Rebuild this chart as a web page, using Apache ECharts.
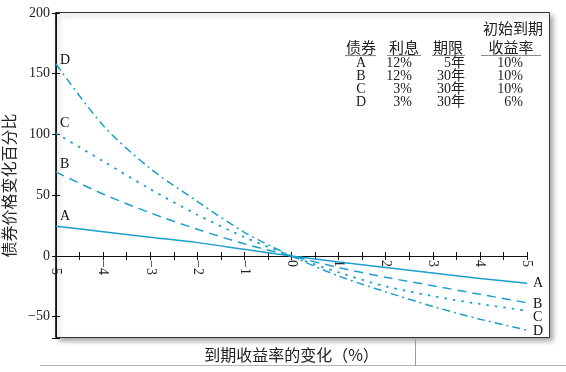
<!DOCTYPE html>
<html><head><meta charset="utf-8">
<script src="https://cdn.jsdelivr.net/npm/echarts@6/dist/echarts.min.js"></script>
<style>html,body{margin:0;padding:0;background:#fff}#c{width:566px;height:372px}</style>
</head><body><div id="c"></div>
<script>
// ---- data ----
const yieldChanges = [-5, -4, -3, -2, -1, 0, 1, 2, 3, 4, 5];
const bondA = [24.5, 20, 15.5, 11, 5.5, 0, -5, -9.5, -14, -18.5, -22.5];
const bondB = [69, 51, 35.5, 22, 10, 0, -9.5, -17.5, -24.5, -31.5, -38.5];
const bondC = [101, 78, 55, 34, 15.5, 0, -13.5, -25, -33, -39.5, -45];
const bondD = [158, 107.5, 72, 45, 19.5, 0, -16.5, -29.5, -41.5, -52, -61];
const seriesNames = ['A', 'B', 'C', 'D'];
const tableHeaderTop = '初始到期';
const tableHeaders = ['债券', '利息', '期限', '收益率'];
const tableBonds = ['A', 'B', 'C', 'D'];
const tableCoupons = ['12%', '12%', '3%', '3%'];
const tableMaturities = ['5年', '30年', '30年', '30年'];
const tableYields = ['10%', '10%', '10%', '6%'];
const xAxisTitle = '到期收益率的变化（%）';
const yAxisTitle = '债券价格变化百分比';

// ---- style ----
const CYAN = '#1d9fcd';
const SERIF = '"Liberation Serif", "Noto Sans CJK SC", serif';
const CJK = '"Noto Sans CJK SC", sans-serif';
const styles = [
  { type: 'solid', width: 1.5, labelOff: -10, endOff: 0 },
  { type: [9, 6], width: 1.5, labelOff: -8, endOff: 2 },
  { type: [2.5, 6], width: 1.8, labelOff: -10, endOff: 7 },
  { type: [8, 4, 2, 4], width: 1.5, labelOff: -4, endOff: 1 }
];
const allData = [bondA, bondB, bondC, bondD];

const series = allData.map((vals, i) => ({
  name: seriesNames[i],
  type: 'line',
  smooth: 0.3,
  symbol: 'circle',
  symbolSize: 0,
  showSymbol: true,
  xAxisIndex: 0, yAxisIndex: 0,
  lineStyle: { color: CYAN, width: styles[i].width, type: styles[i].type },
  itemStyle: { color: CYAN },
  data: vals.map((v, k) => k === 0 ? {
    value: [yieldChanges[k], v],
    label: { show: true, formatter: seriesNames[i], position: 'right', distance: 4,
      offset: [0, styles[i].labelOff], color: '#111', fontFamily: SERIF, fontSize: 14 }
  } : [yieldChanges[k], v]),
  endLabel: { show: true, formatter: seriesNames[i], distance: 6, offset: [0, styles[i].endOff],
    color: '#111', fontFamily: SERIF, fontSize: 14 }
}));

// table graphic
const colX = { bond: 361, coupon: 412, mat: 465, yield: 523 };
const headCenters = [361, 404, 448, 511];
const headUnder = [[345, 376], [387, 421], [432, 465], [481, 541]];
const rowY = [63, 76, 89, 102];
const graphics = [
  { type: 'rect', z: -10, silent: true,
    shape: { x: 55.5, y: 12.5, width: 494, height: 325 },
    style: { fill: '#fff', stroke: '#333', lineWidth: 1,
      shadowBlur: 5, shadowColor: 'rgba(0,0,0,0.35)', shadowOffsetX: 3, shadowOffsetY: 3 } },
  { type: 'line', silent: true, shape: { x1: 40, y1: 365.5, x2: 566, y2: 365.5 },
    style: { stroke: '#b5b5b5', lineWidth: 1 } },
  { type: 'line', silent: true, shape: { x1: 415.5, y1: 339, x2: 415.5, y2: 366 },
    style: { stroke: '#9a9a9a', lineWidth: 1 } },
  { type: 'text', silent: true, style: { text: tableHeaderTop, x: 513, y: 28, align: 'center',
    verticalAlign: 'middle', font: '15px ' + CJK, fill: '#222' } }
];
tableHeaders.forEach((h, i) => {
  graphics.push({ type: 'text', silent: true, style: { text: h, x: headCenters[i], y: 47,
    align: 'center', verticalAlign: 'middle', font: '15px ' + CJK, fill: '#222' } });
  graphics.push({ type: 'line', silent: true, shape: { x1: headUnder[i][0], y1: 55.5, x2: headUnder[i][1], y2: 55.5 },
    style: { stroke: '#8a8a8a', lineWidth: 1.2 } });
});
tableBonds.forEach((b, r) => {
  const cells = [[b, colX.bond, 'center'], [tableCoupons[r], colX.coupon, 'right'],
    [tableMaturities[r], colX.mat, 'right'], [tableYields[r], colX.yield, 'right']];
  cells.forEach(c => graphics.push({ type: 'text', silent: true, style: { text: c[0], x: c[1], y: rowY[r],
    align: c[2], verticalAlign: 'middle', font: '14px ' + SERIF, fill: '#222' } }));
});

const minus = s => String(s).replace('-', '−');
const baseY = { type: 'value', min: -67.5, max: 200, minInterval: 50, maxInterval: 50,
  splitLine: { show: false } };
const baseX = { type: 'value', min: -5, max: 5, interval: 0.5, splitLine: { show: false } };

const option = {
  animation: false,
  backgroundColor: '#fff',
  grid: [
    { left: 56, right: 39, top: 13, bottom: 34, containLabel: false, outerBoundsMode: 'none' },
    // helper grid whose bottom edge sits on the zero line, used to place the x tick labels
    { left: 56, right: 39, top: 13, bottom: 116, containLabel: false, outerBoundsMode: 'none' }
  ],
  xAxis: [
    Object.assign({}, baseX, {
      gridIndex: 0, position: 'bottom',
      axisLine: { onZero: true, onZeroAxisIndex: 0, lineStyle: { color: '#111', width: 1 } },
      axisTick: { show: true, inside: false, length: 4, lineStyle: { color: '#111' } },
      axisLabel: { show: false }
    }),
    Object.assign({}, baseX, {
      gridIndex: 0, position: 'top',
      axisLine: { onZero: true, onZeroAxisIndex: 0, show: false },
      axisTick: { show: true, inside: false, length: 4, lineStyle: { color: '#111' } },
      axisLabel: { show: false }
    }),
    Object.assign({}, baseX, {
      gridIndex: 1, position: 'bottom',
      name: xAxisTitle, nameLocation: 'middle', nameGap: 91,
      nameTextStyle: { fontFamily: CJK, fontSize: 16, color: '#222' },
      axisLine: { onZero: false, show: false },
      axisTick: { show: false },
      axisLabel: { rotate: -90, margin: 4, color: '#222', fontFamily: SERIF, fontSize: 14,
        formatter: v => Number.isInteger(v) ? minus(v) : '' }
    })
  ],
  yAxis: [
    Object.assign({}, baseY, {
      gridIndex: 0, position: 'left',
      name: yAxisTitle, nameLocation: 'middle', nameGap: 35, nameRotate: 90,
      nameTextStyle: { fontFamily: CJK, fontSize: 16, color: '#222', padding: [0, 20, 0, 0] },
      axisLine: { onZero: false, show: true, lineStyle: { color: '#111', width: 1 } },
      axisTick: { show: true, inside: false, length: 4, lineStyle: { color: '#111' } },
      axisLabel: { margin: 6, color: '#222', fontFamily: SERIF, fontSize: 14,
        formatter: v => (v % 50 === 0) ? minus(v) : '' }
    }),
    Object.assign({}, baseY, {
      gridIndex: 0, position: 'left',
      axisLine: { onZero: false, show: false },
      axisTick: { show: true, inside: true, length: 4, lineStyle: { color: '#111' } },
      axisLabel: { show: false }
    }),
    { type: 'value', gridIndex: 1, min: 0, max: 1, show: false }
  ],
  visualMap: [{
    type: 'piecewise', show: false, seriesIndex: 2, dimension: 0,
    pieces: [{ gte: -5, lt: 1, color: CYAN }, { gte: 1, lte: 5, color: '#222' }]
  }],
  graphic: graphics,
  series: series
};
const chart = echarts.init(document.getElementById('c'), null, { renderer: 'canvas' });
chart.setOption(option);
</script></body></html>
